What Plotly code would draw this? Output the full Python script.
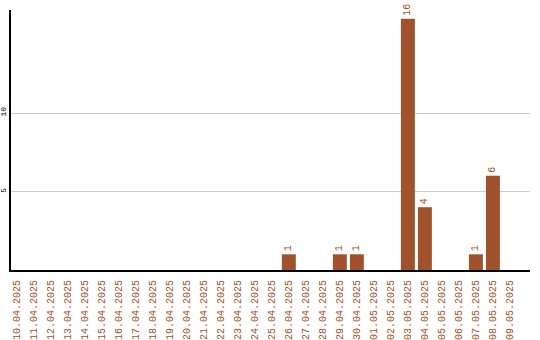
import plotly.graph_objects as go

dates = ["10.04.2025", "11.04.2025", "12.04.2025", "13.04.2025", "14.04.2025",
         "15.04.2025", "16.04.2025", "17.04.2025", "18.04.2025", "19.04.2025",
         "20.04.2025", "21.04.2025", "22.04.2025", "23.04.2025", "24.04.2025",
         "25.04.2025", "26.04.2025", "27.04.2025", "28.04.2025", "29.04.2025",
         "30.04.2025", "01.05.2025", "02.05.2025", "03.05.2025", "04.05.2025",
         "05.05.2025", "06.05.2025", "07.05.2025", "08.05.2025", "09.05.2025"]
counts = [0, 0, 0, 0, 0, 0, 0, 0, 0, 0,
          0, 0, 0, 0, 0, 0, 1, 0, 0, 1,
          1, 0, 0, 16, 4, 0, 0, 1, 6, 0]
y_ticks = [5, 10]

COLOR = "#A0522D"
FONT = "Liberation Mono"

labels = [str(v) if v > 0 else "" for v in counts]

fig = go.Figure(go.Bar(
    x=dates, y=counts, marker=dict(color=COLOR, line=dict(width=0)),
    width=0.82,
    text=labels, textposition="outside", textangle=-90,
    textfont=dict(family=FONT, size=10, color=COLOR),
    cliponaxis=False,
))

fig.update_layout(
    width=540, height=340,
    margin=dict(l=11, r=10, t=10, b=70),
    paper_bgcolor="white", plot_bgcolor="white",
    showlegend=False,
    xaxis=dict(
        type="category", range=[-0.335, 30.18], automargin=False,
        tickangle=-90, tickfont=dict(family=FONT, size=10, color=COLOR),
        showline=True, linecolor="black", linewidth=2,
        showgrid=False, ticks="", ticklabelstandoff=4,
    ),
    yaxis=dict(
        range=[0, 16.56], tickvals=y_ticks, ticktext=[str(t) for t in y_ticks],
        automargin=False,
        tickangle=-90, tickfont=dict(family=FONT, size=8, color="black"),
        showline=True, linecolor="black", linewidth=2,
        showgrid=True, gridcolor="#cccccc", gridwidth=1,
        zeroline=False, ticks="", ticklabelstandoff=0,
    ),
)

fig.write_html("out.html")
